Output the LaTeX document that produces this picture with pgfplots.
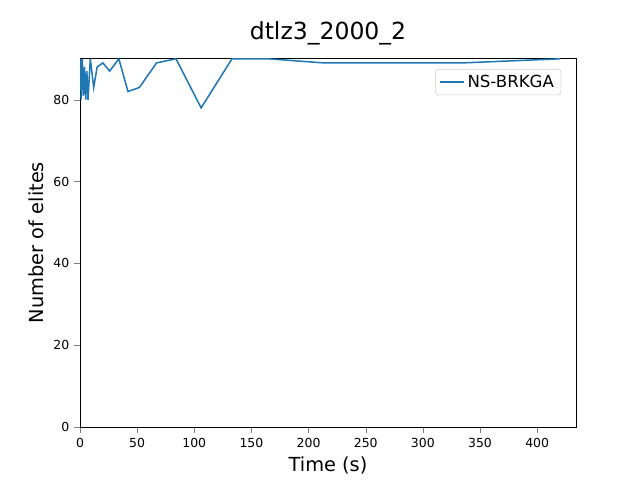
\documentclass[border=0pt]{standalone}
\usepackage{pgfplots}
\pgfplotsset{compat=1.18}
\usepackage{fontspec}
\setmainfont{DejaVu Sans}
\begin{document}
\begin{tikzpicture}
\path[use as bounding box] (0,0) rectangle (6.4in,4.8in);
\begin{axis}[at={(0.8in,0.53in)},anchor=south west,width=4.96in,height=3.69in,scale only axis,
xmin=0,xmax=434,ymin=0,ymax=90.2,
xtick={0,50,...,400},ytick={0,20,...,80},
xtick pos=bottom,ytick pos=left,
tick label style={font=\small},
/pgf/number format/assume math mode=true,
title={\fontsize{17}{20}\selectfont dtlz3\_2000\_2},
xlabel={\fontsize{14}{17}\selectfont Time (s)},ylabel={\fontsize{14}{17}\selectfont Number of elites},
legend pos=north east,legend cell align=left,
legend style={font=\fontsize{12}{14}\selectfont,draw=black!20,rounded corners=2pt},
tick align=outside]
\addplot[color={rgb,255:red,31;green,119;blue,180},line width=1.1pt] coordinates {
(0.5,90)(1,80)(2,90)(3,81)(4,88)(5,80)(6,87)(7,80)(9,90)(12,83)(15,88)(20,89)(26,87)(34,90)(42,82)(52,83)(67,89)(84,90)(106,78)(133,90)(165,90)(213,89)(335,89)(420,90)};
\addlegendentry{NS-BRKGA}
\end{axis}
\end{tikzpicture}
\end{document}
